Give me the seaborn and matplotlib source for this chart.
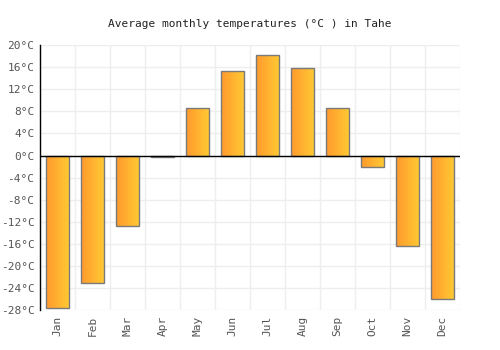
import numpy as np
import pandas as pd
import matplotlib
matplotlib.use('Agg')
import matplotlib.pyplot as plt
from matplotlib.colors import LinearSegmentedColormap
import seaborn as sns

months = ['Jan', 'Feb', 'Mar', 'Apr', 'May', 'Jun', 'Jul', 'Aug', 'Sep', 'Oct', 'Nov', 'Dec']
temps = [-27.7, -23.0, -12.8, -0.2, 8.7, 15.4, 18.3, 15.8, 8.7, -2.0, -16.4, -26.0]
yticks = list(range(-28, 21, 4))

df = pd.DataFrame({'month': months, 'temp': temps})

sns.set_style('white')
plt.rcParams['font.family'] = ['DejaVu Sans Mono']

fig = plt.figure(figsize=(5, 3.5), dpi=100)
ax = fig.add_axes([0.08, 0.114, 0.84, 0.757])

sns.barplot(data=df, x='month', y='temp', ax=ax, width=0.67,
            color='#ffb030', edgecolor='#7a7a7a', linewidth=1, saturation=1)

# gradient fill for each bar
cmap = LinearSegmentedColormap.from_list('grad', ['#ff9a2e', '#ffca33'])
grad = np.linspace(0, 1, 64).reshape(1, -1)
for p in ax.patches:
    x0, y0 = p.get_x(), p.get_y()
    w, h = p.get_width(), p.get_height()
    p.set_facecolor('none')
    im = ax.imshow(grad, cmap=cmap, aspect='auto', zorder=p.get_zorder() - 0.1,
                   extent=[x0, x0 + w, min(y0, y0 + h), max(y0, y0 + h)])
    im.set_clip_path(p)

ax.set_xlim(-0.5, 11.5)
ax.set_ylim(-28, 20)
ax.set_yticks(yticks)
ax.set_yticklabels([f'{t}°C' for t in yticks])
ax.set_xticks(range(12))
ax.set_xticklabels(months, rotation=90)
ax.set_xticks(np.arange(-0.5, 12, 1), minor=True)

ax.grid(True, which='minor', axis='x', color='#eeeeee', linewidth=1)
ax.grid(True, which='major', axis='y', color='#eeeeee', linewidth=1)
ax.set_axisbelow(True)
ax.axhline(0, color='black', linewidth=1, zorder=5)

for s in ['top', 'right', 'bottom']:
    ax.spines[s].set_visible(False)
ax.spines['left'].set_color('black')
ax.spines['left'].set_linewidth(1)

ax.tick_params(axis='both', length=0, labelsize=8, colors='#555555', pad=4)
ax.set_xlabel('')
ax.set_ylabel('')
ax.set_title('Average monthly temperatures (°C ) in Tahe', fontsize=8, pad=13,
             color='#222222')

fig.savefig('out.png', dpi=100)
